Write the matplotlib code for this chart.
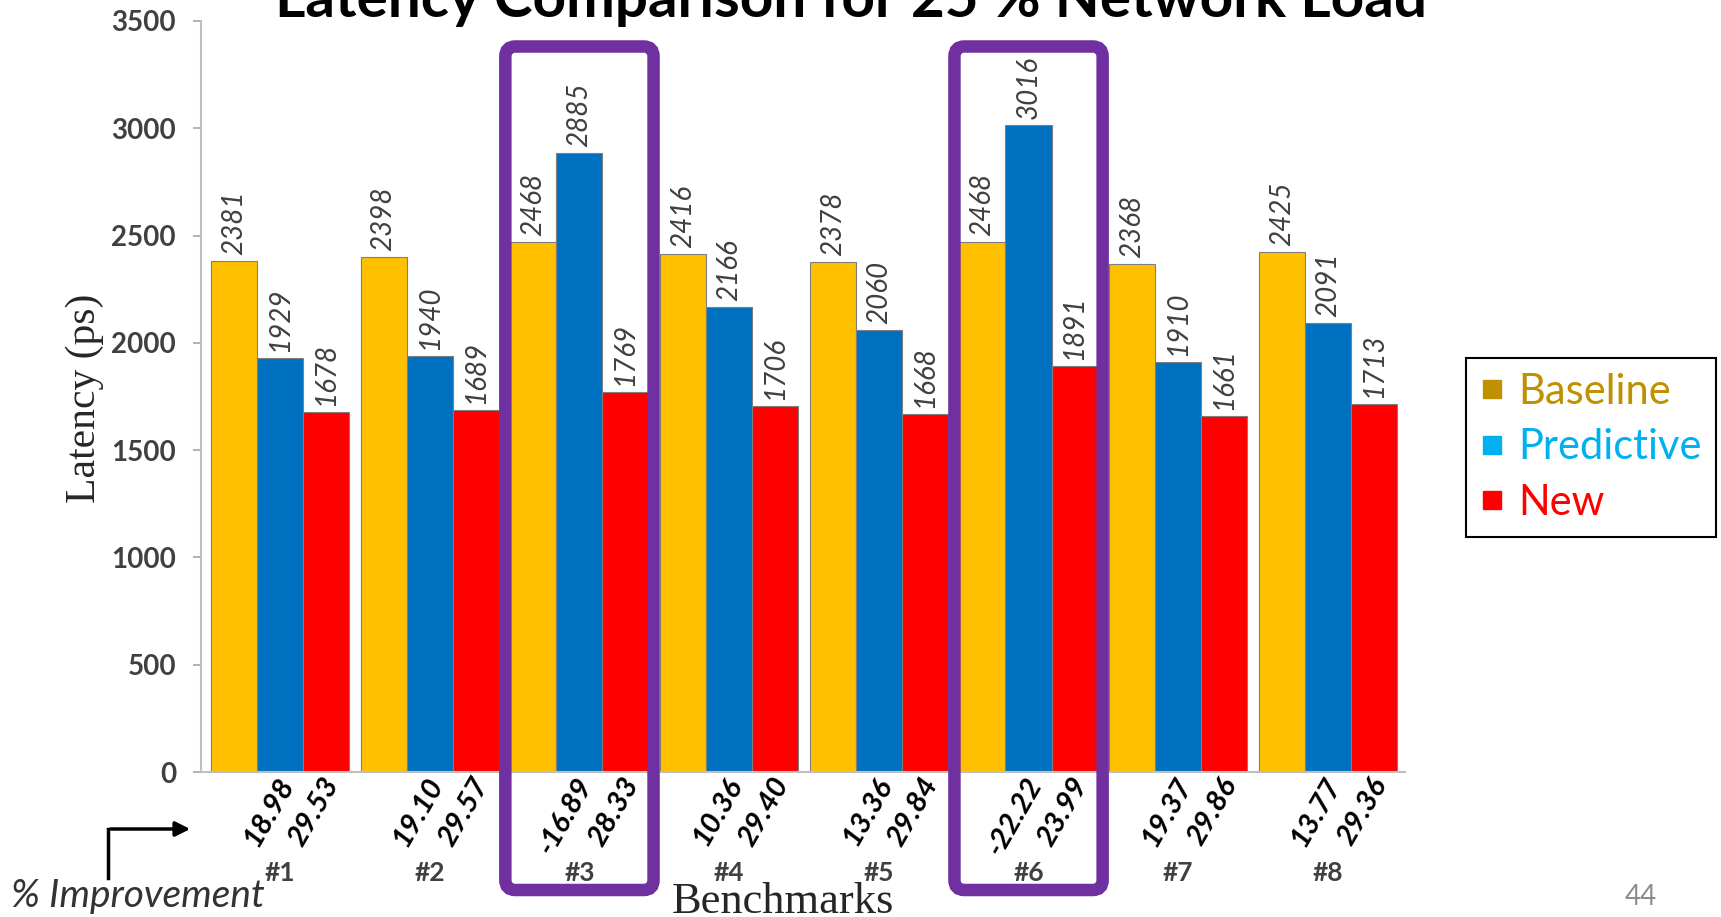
import matplotlib
matplotlib.use('Agg')
import matplotlib.pyplot as plt
from matplotlib.patches import FancyBboxPatch, FancyArrowPatch
from matplotlib.lines import Line2D
from matplotlib.transforms import IdentityTransform
import numpy as np

benchmarks = ['#1', '#2', '#3', '#4', '#5', '#6', '#7', '#8']
baseline = [2381, 2398, 2468, 2416, 2378, 2468, 2368, 2425]
predictive = [1929, 1940, 2885, 2166, 2060, 3016, 1910, 2091]
new = [1678, 1689, 1769, 1706, 1668, 1891, 1661, 1713]
pred_improve = ['18.98', '19.10', '-16.89', '10.36', '13.36', '-22.22', '19.37', '13.77']
new_improve = ['29.53', '29.57', '28.33', '29.40', '29.84', '23.99', '29.86', '29.36']
highlight = [2, 5]  # benchmarks #3 and #6 get a box

W, H = 1721, 917
fig = plt.figure(figsize=(W / 100, H / 100), dpi=100)
fig.patch.set_facecolor('white')
ax = fig.add_axes([0.1168, 0.1581, 0.6996, 0.819])

x = np.arange(len(benchmarks))
w = 0.308
series = [(baseline, '#FFC000', -w), (predictive, '#0070C0', 0.0), (new, '#FF0000', w)]
for vals, col, off in series:
    bars = ax.bar(x + off, vals, w, color=col, edgecolor='#7F7F7F', linewidth=0.8)
    for b, v in zip(bars, vals):
        ax.annotate(str(v), (b.get_x() + b.get_width() / 2, v), xytext=(0, 6),
                    textcoords='offset pixels', rotation=90, ha='center', va='bottom',
                    fontsize=20, style='italic', family='Lato', color='#404040')

# percent improvement under the predictive and new bars
for i in x:
    for off, txt in ((0.0, pred_improve[i]), (w, new_improve[i])):
        ax.annotate(txt, (i + off, 0), xytext=(7, -8), textcoords='offset pixels',
                    rotation=60, rotation_mode='anchor', ha='right', va='center',
                    fontsize=21, weight='bold', style='italic', family='Lato',
                    color='black', annotation_clip=False)

ax.set_xlim(-0.528, 7.515)
ax.set_ylim(0, 3500)
ax.set_yticks(range(0, 3501, 500))
ax.set_xticks(x, benchmarks)
ax.tick_params(axis='x', length=0, pad=64)
ax.tick_params(axis='y', length=6, width=1.2, color='#A6A6A6', pad=12)
for lab in ax.get_yticklabels() + ax.get_xticklabels():
    lab.set_family('Lato')
    lab.set_weight('bold')
    lab.set_color('#404040')
    lab.set_fontsize(20)
for lab in ax.get_xticklabels():
    lab.set_fontsize(19)
for s in ('top', 'right'):
    ax.spines[s].set_visible(False)
for s in ('left', 'bottom'):
    ax.spines[s].set_color('#BFBFBF')
    ax.spines[s].set_linewidth(1.5)

fig.text(85 / W, 0.566, 'Latency (ps)', rotation=90, ha='center', va='center',
         family='Liberation Serif', fontsize=30, color='#262626')
fig.text(783 / W, 0.004, 'Benchmarks', ha='center', va='baseline',
         family='Liberation Serif', fontsize=32, color='#262626')
fig.text(851 / W, 1 - 17 / H, 'Latency Comparison for 25 % Network Load', ha='center',
         va='baseline', family='Lato', weight='bold', fontsize=42, color='black')

# arrow pointing at the percent rows
fig.add_artist(Line2D([108 / W, 108 / W], [1 - 878 / H, 1 - 829 / H],
                      transform=fig.transFigure, color='black', lw=2.5))
fig.add_artist(FancyArrowPatch((108 / W, 1 - 829 / H), (193 / W, 1 - 829 / H),
                               transform=fig.transFigure, arrowstyle='-|>',
                               mutation_scale=22, lw=2.5, color='black'))
fig.text(11 / W, 1 - 896 / H, '% Improvement', ha='left', va='center', style='italic',
         family='Lato', fontsize=28, color='#333333')
fig.text(1641 / W, 1 - 897 / H, '44', ha='center', va='center', family='Lato',
         fontsize=20, color='#8C8C8C')

# purple boxes around the highlighted benchmarks
for i in highlight:
    x0 = ax.transData.transform((i - 0.495, 0))[0]
    x1 = ax.transData.transform((i + 0.495, 0))[0]
    box = FancyBboxPatch((x0, H - 890), x1 - x0, 890 - 46.5,
                         boxstyle='round,pad=0,rounding_size=10', lw=9,
                         edgecolor='#7030A0', facecolor='none',
                         transform=IdentityTransform())
    fig.add_artist(box)

legend_cols = ['#BF9000', '#00B0F0', '#FF0000']
handles = [Line2D([], [], marker='s', linestyle='none', color=c, markersize=13)
           for c in legend_cols]
leg = fig.legend(handles, ['Baseline', 'Predictive', 'New'], loc='center',
                 bbox_to_anchor=(0.9247, 0.512), frameon=True, fancybox=False,
                 edgecolor='black', framealpha=1, prop={'family': 'Lato', 'size': 30},
                 labelcolor=legend_cols, handlelength=0.55, handletextpad=0.35,
                 labelspacing=0.42, borderpad=0.35, borderaxespad=0)
leg.get_frame().set_linewidth(1.5)

fig.savefig('out.png', dpi=100)
